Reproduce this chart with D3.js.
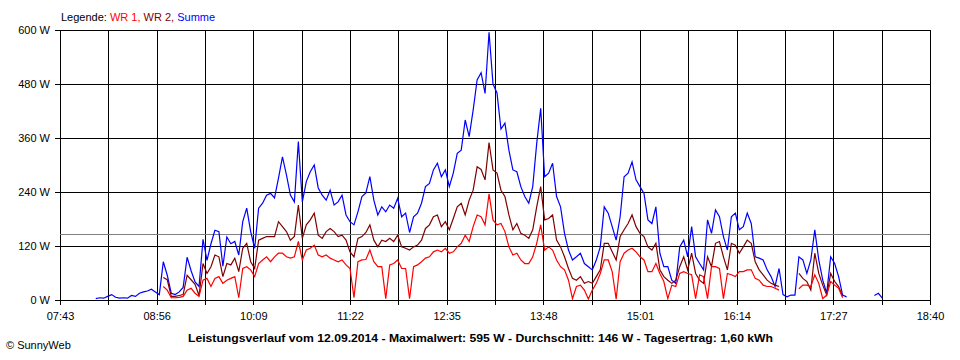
<!DOCTYPE html>
<html>
<head>
<meta charset="utf-8">
<script src="https://cdn.jsdelivr.net/npm/d3@7"></script>
<style>
  body { margin: 0; background: #fff; }
  svg { display: block; font-family: "Liberation Sans", Arial, sans-serif; }
</style>
</head>
<body>
<svg id="chart" width="960" height="360"></svg>
<script>
// ---- data ----
const tickLabels = ["07:43","08:56","10:09","11:22","12:35","13:48","15:01","16:14","17:27","18:40"];
const yTicks = [0, 120, 240, 360, 480, 600];
const seriesNames = ["WR 1", "WR 2", "Summe"];
const startTime = "08:10";
const stepMinutes = 3;
const averageW = 146;
const titleText = "Leistungsverlauf vom 12.09.2014 - Maximalwert: 595 W - Durchschnitt: 146 W - Tagesertrag: 1,60 kWh";

const summe = [
  3,5,4,8,12,6,4,5,4,10,
  8,15,18,20,24,18,12,85,55,15,
  12,18,28,95,65,40,30,135,88,125,
  155,152,75,140,125,130,100,174,204,152,
  115,204,215,233,237,227,271,318,278,233,
  218,352,218,263,285,300,249,233,222,244,
  211,218,233,189,174,167,196,230,238,274,
  222,189,207,196,211,204,226,185,193,150,
  185,193,215,252,259,289,304,274,289,252,
  282,326,333,400,363,422,489,505,459,595,
  480,460,380,393,333,289,285,252,230,215,
  252,348,426,274,282,304,230,207,148,111,
  89,96,104,81,74,67,89,118,207,193,
  163,133,185,274,282,307,267,252,237,178,
  170,207,104,74,74,44,37,118,133,96,
  163,96,81,67,178,148,200,185,141,111,
  185,193,156,163,193,170,96,93,89,67,
  52,30,70,12,7,11,11,96,89,59,
  89,156,89,44,15,96,81,52,11,7,
  null,null,null,null,null,null,10,15,4,null
];

const wr2 = [
  null,null,null,null,null,null,null,null,null,null,
  null,null,null,null,null,null,null,50,45,8,
  8,10,12,55,45,35,10,81,59,74,
  100,96,52,81,78,93,63,115,126,85,
  70,133,137,141,141,141,174,163,152,133,
  141,211,137,167,178,193,144,137,152,159,
  152,141,144,133,107,96,137,141,150,167,
  133,118,133,130,137,130,144,118,115,111,
  118,122,133,159,167,185,189,163,174,156,
  181,207,215,189,222,244,296,290,267,350,
  289,282,244,230,189,156,170,148,144,137,
  156,207,252,178,181,189,133,118,96,70,
  48,44,52,37,41,37,52,67,126,126,
  107,89,141,156,170,189,163,148,141,118,
  111,126,67,52,44,37,44,74,96,67,
  104,59,44,37,96,74,126,130,96,67,
  126,122,104,118,133,126,85,67,56,44,
  37,33,30,null,null,null,null,59,48,41,
  22,104,59,33,11,59,41,30,8,null,
  null,null,null,null,null,null,null,null,null,null
];

const wr1 = [
  null,null,null,null,null,null,null,null,null,null,
  null,null,null,null,null,null,null,30,22,5,
  5,6,8,22,26,15,8,44,48,30,
  48,52,37,44,48,52,5,70,74,67,
  52,81,89,96,85,96,104,104,96,93,
  96,130,89,111,115,122,100,96,100,93,
  89,85,89,78,70,5,85,89,90,111,
  85,74,74,3,78,81,89,70,70,3,
  74,78,85,93,96,107,111,107,115,104,
  107,118,126,144,130,163,189,185,167,236,
  178,167,170,152,118,100,104,89,81,81,
  96,126,167,111,118,111,89,74,67,44,
  3,30,33,22,2,22,37,59,89,89,
  63,2,85,104,111,115,107,96,89,63,
  63,81,59,41,3,33,30,59,63,59,
  56,3,56,52,3,74,74,70,3,59,
  56,52,63,63,67,67,48,44,33,30,
  30,26,22,null,null,null,null,25,33,33,
  30,56,37,3,11,41,33,26,5,null,
  null,null,null,null,null,null,null,null,null,null
];

// ---- helpers ----
function at(hhmm) {
  const [h, m] = hhmm.split(":").map(Number);
  return new Date(2014, 8, 12, h, m);
}
const t0 = at(startTime);
const timeOf = i => new Date(t0.getTime() + i * stepMinutes * 60000);

const svg = d3.select("#chart");
const mLeft = 60, mRight = 930, mTop = 30, mBottom = 300;

const x = d3.scaleTime().domain([at(tickLabels[0]), at(tickLabels[tickLabels.length - 1])]).range([mLeft, mRight]);
const y = d3.scaleLinear().domain([0, 600]).range([mBottom, mTop]);

// grid times: labelled ticks plus midpoints
const gridTimes = [];
tickLabels.forEach((l, i) => {
  gridTimes.push(at(l));
  if (i < tickLabels.length - 1) {
    const a = at(l).getTime(), b = at(tickLabels[i + 1]).getTime();
    gridTimes.push(new Date((a + b) / 2));
  }
});
const fmt = d3.timeFormat("%H:%M");

// x axis with vertical grid lines
const gx = svg.append("g")
  .attr("transform", `translate(0,${mBottom + 5})`)
  .call(d3.axisBottom(x).tickValues(gridTimes).tickSizeInner(-(mBottom + 5 - mTop)).tickSizeOuter(0).tickPadding(7)
    .tickFormat((d, i) => i % 2 === 0 ? fmt(d) : ""));
gx.select(".domain").remove();
gx.selectAll("line").attr("stroke", "#000").attr("shape-rendering", "crispEdges");
gx.selectAll("text").attr("font-size", 11).attr("fill", "#000").attr("font-family", "Liberation Sans, Arial, sans-serif");

// y axis with horizontal grid lines
const gy = svg.append("g")
  .attr("transform", `translate(${mLeft - 5},0)`)
  .call(d3.axisLeft(y).tickValues(yTicks).tickSizeInner(-(mRight - mLeft + 5)).tickSizeOuter(0).tickPadding(5)
    .tickFormat(d => d + " W"));
gy.select(".domain").remove();
gy.selectAll("line").attr("stroke", "#000").attr("shape-rendering", "crispEdges");
gy.selectAll("text").attr("font-size", 11).attr("fill", "#000").attr("font-family", "Liberation Sans, Arial, sans-serif");

// average line
svg.append("line")
  .attr("x1", mLeft).attr("x2", mRight)
  .attr("y1", y(averageW)).attr("y2", y(averageW))
  .attr("stroke", "#808080").attr("shape-rendering", "crispEdges");

// series
const line = d3.line()
  .defined(d => d.v !== null)
  .x(d => x(d.t))
  .y(d => y(d.v))
  .curve(d3.curveLinear);

const series = [
  { values: summe, color: "#0000ff" },
  { values: wr2, color: "#800000" },
  { values: wr1, color: "#ff0000" }
];
series.forEach(s => {
  const pts = s.values.map((v, i) => ({ t: timeOf(i), v: v }));
  svg.append("path")
    .attr("d", line(pts))
    .attr("fill", "none")
    .attr("stroke", s.color)
    .attr("stroke-width", 1.2)
    .attr("stroke-linejoin", "miter");
});

// legend
const legend = svg.append("text").attr("x", 61).attr("y", 21).attr("font-size", 11);
legend.append("tspan").attr("fill", "#000").text("Legende: ");
legend.append("tspan").attr("fill", "#ff0000").text(seriesNames[0] + ", ");
legend.append("tspan").attr("fill", "#800000").text(seriesNames[1] + ", ");
legend.append("tspan").attr("fill", "#0000ff").text(seriesNames[2]);

// title
svg.append("text")
  .attr("x", 188).attr("y", 342)
  .attr("font-size", 11.5).attr("font-weight", "bold")
  .attr("textLength", 585).attr("lengthAdjust", "spacingAndGlyphs")
  .text(titleText);

// copyright
svg.append("text")
  .attr("x", 6).attr("y", 349)
  .attr("font-size", 11)
  .text("© SunnyWeb");
</script>
</body>
</html>
